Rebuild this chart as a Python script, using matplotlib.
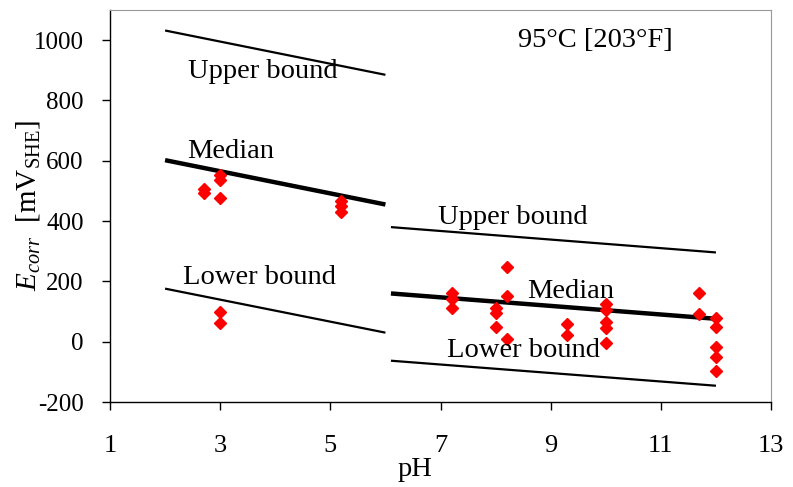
import matplotlib
matplotlib.use("Agg")
from matplotlib import pyplot as plt
import numpy as np

plt.rcParams['font.family'] = ['Liberation Serif', 'DejaVu Serif']
plt.rcParams['mathtext.fontset'] = 'custom'
plt.rcParams['mathtext.rm'] = 'Liberation Serif'
plt.rcParams['mathtext.it'] = 'Liberation Serif:italic'
plt.rcParams['axes.unicode_minus'] = False

# trend lines (pH endpoints, mV)
left_ph = [2, 6]
left_upper = [1032, 885]
left_median = [602, 455]
left_lower = [176, 30]
right_ph = [6.1, 12]
right_upper = [380, 296]
right_median = [160, 76]
right_lower = [-63, -146]

# measured points
pts_ph = [2.7, 2.7, 3, 3, 3, 3, 3, 5.2, 5.2, 5.2,
          7.2, 7.2, 7.2, 8.0, 8.0, 8.0, 8.2, 8.2, 8.2, 9.3, 9.3,
          10, 10, 10, 10, 10, 11.7, 11.7, 12, 12, 12, 12, 12]
pts_e = [505, 492, 552, 535, 475, 100, 63, 465, 449, 429,
         160, 140, 113, 113, 96, 50, 247, 150, 10, 60, 23,
         125, 106, 66, 47, -5, 160, 93, 80, 50, -17, -50, -96]

labels = [("Upper bound", 2.42, 895), ("Median", 2.4, 630), ("Lower bound", 2.33, 213),
          ("Upper bound", 6.95, 412), ("Median", 8.58, 166), ("Lower bound", 7.12, -30)]

fig = plt.figure(figsize=(7.93, 4.87), dpi=100)
ax = fig.add_axes([0.1387, 0.1745, 0.9723 - 0.1387, 0.9795 - 0.1745])

for xs, ys, lw in [(left_ph, left_upper, 1.6), (left_ph, left_median, 3.2), (left_ph, left_lower, 1.6),
                   (right_ph, right_upper, 1.6), (right_ph, right_median, 3.2), (right_ph, right_lower, 1.6)]:
    ax.plot(xs, ys, color='black', lw=lw, solid_capstyle='butt')

ax.plot(pts_ph, pts_e, 'D', color='red', ms=6, mec='red', ls='none')

for txt, x, y in labels:
    ax.text(x, y, txt, fontsize=20.5, ha='left', va='center')
ax.text(8.4, 1000, "95°C [203°F]", fontsize=20.5, ha='left', va='center')

ax.set_xlim(1, 13)
ax.set_ylim(-200, 1100)
ax.set_xticks(np.arange(1, 14, 2))
ax.set_yticks(np.arange(-200, 1001, 200))
ax.tick_params(direction='out', length=6, width=1)
ax.tick_params(axis='x', pad=18, labelsize=19)
ax.tick_params(axis='y', pad=13, labelsize=18)
ax.spines['top'].set_color('#999999')
ax.spines['right'].set_color('#999999')
ax.spines['left'].set_linewidth(1)
ax.spines['bottom'].set_linewidth(1)

ax.set_xlabel("pH", fontsize=20.5)
ax.xaxis.set_label_coords(0.461, -0.14)
ax.set_ylabel(r"$E_{corr}$  [mV$_{\mathrm{SHE}}$]", fontsize=21)
ax.yaxis.set_label_coords(-0.103, 0.5)

fig.savefig("out.png", dpi=100)
